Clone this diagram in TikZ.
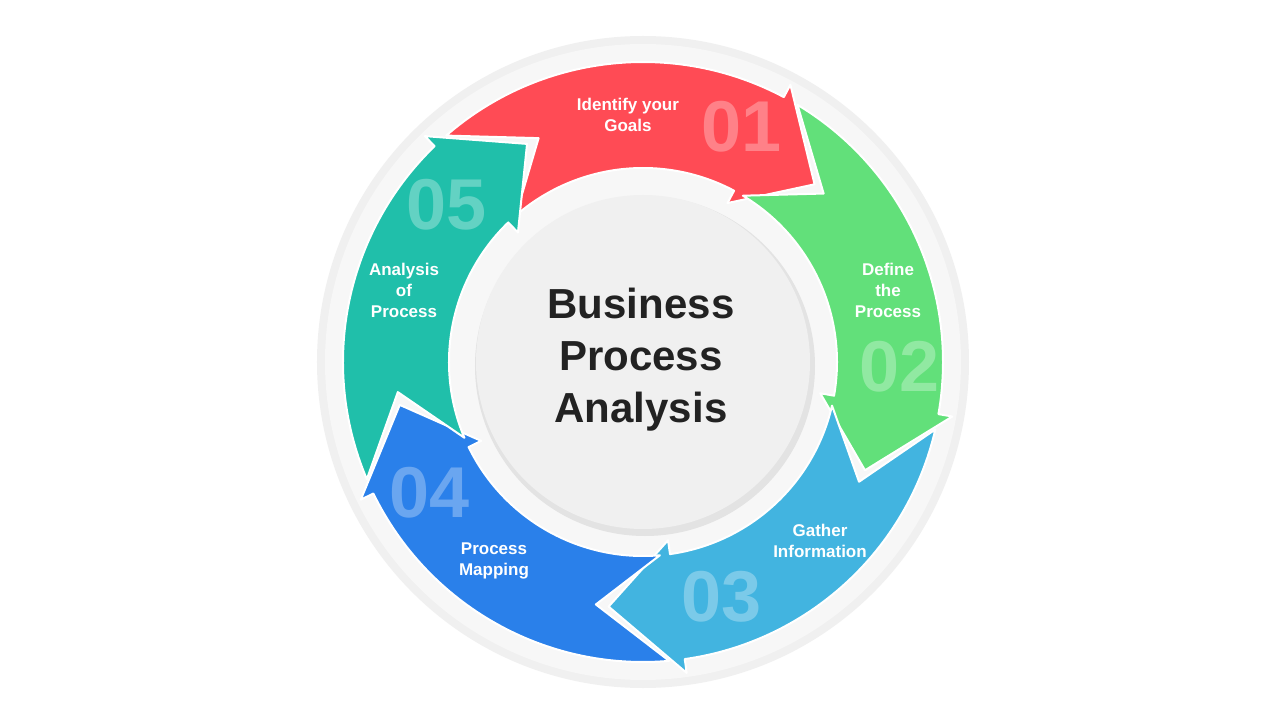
\documentclass[tikz,border=0pt]{standalone}
\usepackage{fontspec}
\setmainfont{Liberation Sans}
\definecolor{cred}{HTML}{FF4B55}
\definecolor{cgreen}{HTML}{62E07A}
\definecolor{clblue}{HTML}{42B4E0}
\definecolor{cblue}{HTML}{2A80EA}
\definecolor{cteal}{HTML}{20BFAA}
\definecolor{ctext}{HTML}{222222}
\tikzset{
  lbl/.style={text=white,font=\bfseries\fontsize{17}{21}\selectfont,align=center},
  num/.style={text=white,opacity=0.3,font=\bfseries\fontsize{72}{72}\selectfont},
  seg/.style={draw=white,line width=2pt,line join=round}
}
\newcommand{\segarrow}[2]{% #1 start angle, #2 colour
  \pgfmathsetmacro{\aa}{#1}
  \pgfmathsetmacro{\bb}{#1-69}
  \pgfmathsetmacro{\tt}{#1-85}
  \pgfmathsetmacro{\nn}{#1-16}
  \fill[#2,seg] (\aa:300) arc[start angle=\aa,end angle=\bb,radius=300]
    -- (\bb:314) -- (\tt:247) -- (\bb:180) -- (\bb:194)
    arc[start angle=\bb,end angle=\aa,radius=194] -- (\nn:247) -- cycle;
}
\begin{document}
\begin{tikzpicture}[x=1pt,y=1pt]
\useasboundingbox (-643,-358) rectangle (637,362);
\fill[white] (-643,-358) rectangle (637,362);
\fill[gray!12] (0,0) circle (326);
\fill[gray!6] (0,0) circle (318);
\segarrow{131}{cred}
\segarrow{59}{cgreen}
\segarrow{-13}{clblue}
\segarrow{-85}{cblue}
\segarrow{203}{cteal}
\fill[gray!22] (2,-4) circle (170);
\fill[gray!12] (0,0) circle (167);
\node[num] (n1) at (99,235) {01};
\node[num] (n2) at (257,-5) {02};
\node[num] (n3) at (79,-235) {03};
\node[num] (n4) at (-213,-131) {04};
\node[num] (n5) at (-196,157) {05};
\node[lbl] (l1) at (-15,247) {Identify your\\Goals};
\node[lbl] (l2) at (245,72) {Define\\the\\Process};
\node[lbl] (l3) at (177,-179) {Gather\\Information};
\node[lbl] (l4) at (-149,-199) {Process\\Mapping};
\node[lbl] (l5) at (-239,72) {Analysis\\of\\Process};
\node[text=ctext,font=\bfseries\fontsize{42}{52}\selectfont,align=center] (c) at (-2,2) {Business\\Process\\Analysis};
\end{tikzpicture}
\end{document}
